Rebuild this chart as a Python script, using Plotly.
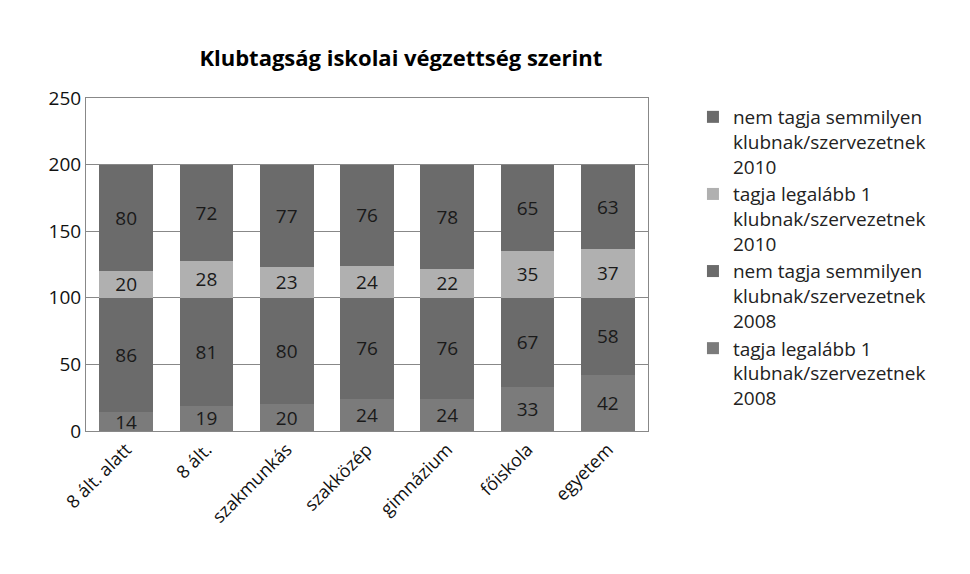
import plotly.graph_objects as go

cats = ["8 ált. alatt", "8 ált.", "szakmunkás", "szakközép", "gimnázium", "főiskola", "egyetem"]
tag08 = [14, 19, 20, 24, 24, 33, 42]
nem08 = [86, 81, 80, 76, 76, 67, 58]
tag10 = [20, 28, 23, 24, 22, 35, 37]
nem10 = [80, 72, 77, 76, 78, 65, 63]
names = ["tagja legalább 1<br>klubnak/szervezetnek<br>2008",
         "nem tagja semmilyen<br>klubnak/szervezetnek<br>2008",
         "tagja legalább 1<br>klubnak/szervezetnek<br>2010",
         "nem tagja semmilyen<br>klubnak/szervezetnek<br>2010"]
series = [tag08, nem08, tag10, nem10]
colors = ["#7b7b7b", "#6b6b6b", "#b0b0b0", "#6b6b6b"]

fig = go.Figure()
for n, v, c in zip(names, series, colors):
    fig.add_bar(x=cats, y=v, name=n, marker=dict(color=c, line=dict(width=0)),
                text=v, textposition="inside", insidetextanchor="middle", textangle=0,
                textfont=dict(size=19, color="#1a1a1a"), constraintext="none")

fig.update_layout(
    barmode="stack", bargap=0.33, width=970, height=574,
    paper_bgcolor="white", plot_bgcolor="white",
    font=dict(family="Open Sans, Liberation Sans, sans-serif", color="#111"),
    title=dict(text="<b>Klubtagság iskolai végzettség szerint</b>", x=0.405, xanchor="center",
               y=0.925, font=dict(size=22, color="#000")),
    margin=dict(l=78, r=330, t=90, b=151),
    legend=dict(traceorder="reversed", x=1.08, y=1.0, yanchor="top", xanchor="left",
                font=dict(size=19, color="#222"), tracegroupgap=14, itemwidth=30, valign="top"),
    showlegend=True,
)
fig.update_yaxes(range=[0, 250], dtick=50, showgrid=True, gridcolor="#888", gridwidth=1,
                 tickfont=dict(size=19), ticks="", zeroline=False,
                 showline=True, linecolor="#888", mirror=True)
fig.update_xaxes(tickangle=-45, tickfont=dict(size=18), showline=True, linecolor="#888", mirror=True)
fig.write_html("out.html")
